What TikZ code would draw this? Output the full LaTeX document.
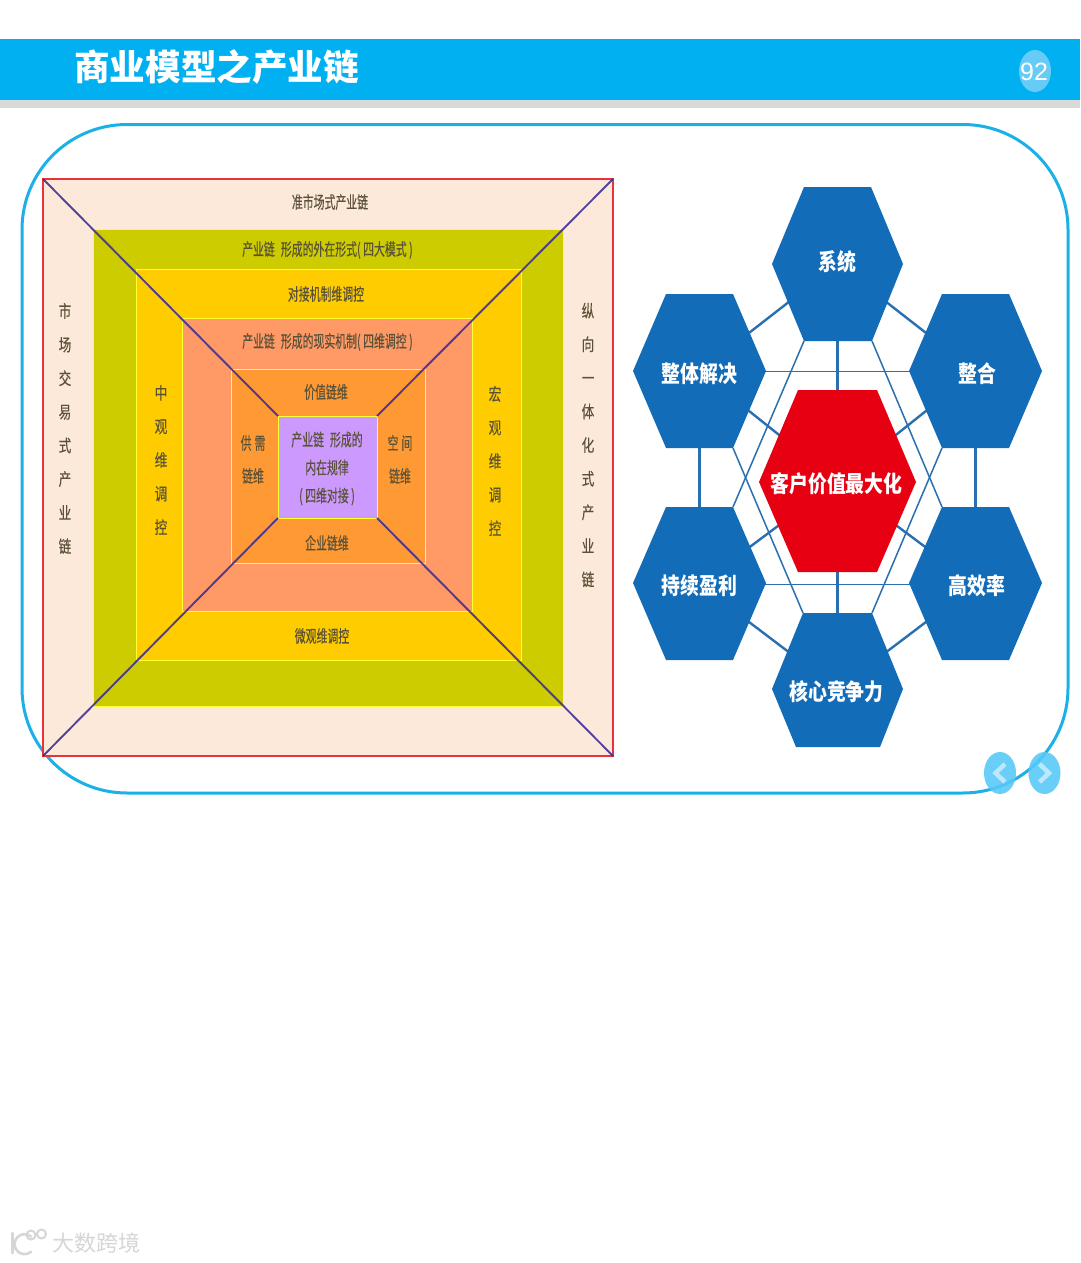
\documentclass[tikz,border=0pt]{standalone}
\usepackage{fontspec}
\setmainfont{Liberation Sans}
\newfontfamily\cnfont{Noto Sans CJK SC}
\newfontfamily\cnthin[FakeStretch=0.64,FakeBold=0.3]{Noto Sans CJK SC}
\newfontfamily\cnvert[FakeStretch=0.74,FakeBold=0.3]{Noto Sans CJK SC}
\newfontfamily\cnhex[FakeStretch=0.82]{Noto Sans CJK SC}
\definecolor{barblue}{HTML}{00B0F0}
\definecolor{bargrey}{HTML}{D9D9D9}
\definecolor{framecyan}{HTML}{1BB1E7}
\definecolor{ovalblue}{HTML}{55C8F8}
\definecolor{ovalpage}{HTML}{66CBF6}
\definecolor{chevron}{HTML}{BDE8FB}
\definecolor{outerfill}{HTML}{FDE9D9}
\definecolor{olivefill}{HTML}{CCCC00}
\definecolor{yellowfill}{HTML}{FFCC00}
\definecolor{salmonfill}{HTML}{FF9966}
\definecolor{orangefill}{HTML}{FF9933}
\definecolor{purplefill}{HTML}{CC99FF}
\definecolor{ruleyellow}{HTML}{FFFF33}
\definecolor{rulered}{HTML}{E8323C}
\definecolor{diag}{HTML}{3A2C96}
\definecolor{labelgrey}{HTML}{5A5238}
\definecolor{hexblue}{HTML}{126CB8}
\definecolor{hexred}{HTML}{E60012}
\definecolor{linkblue}{HTML}{2A6FAF}
\definecolor{wmgrey}{HTML}{D6D6D6}
\tikzset{
  layer/.style={draw=ruleyellow,line width=1pt},
  diagline/.style={draw=diag,line width=1.9pt,draw opacity=.88},
  lbl/.style={inner sep=0pt,text=labelgrey,font=\cnthin\fontsize{17}{28}\selectfont,align=center},
  vlbl/.style={inner sep=0pt,text=labelgrey,font=\cnvert\fontsize{17}{33.6}\selectfont,align=center},
  hexlbl/.style={inner sep=0pt,text=white,font=\cnhex\bfseries\fontsize{23}{26}\selectfont},
  thicklink/.style={draw=linkblue,line width=2.4pt},
  thinlink/.style={draw=linkblue,line width=1.5pt},
  navoval/.style={fill=ovalblue,fill opacity=.88,draw=none},
  navmark/.style={draw=chevron,line width=4.5pt,line join=miter},
}
\begin{document}
\begin{tikzpicture}[x=1pt,y=-1pt]
\useasboundingbox (0,0) rectangle (1080,1263);
\fill[white] (0,0) rectangle (1080,1263);
% header
\fill[barblue] (0,39.5) rectangle (1080,100);
\fill[bargrey] (0,100) rectangle (1080,108);
\node[inner sep=0pt,anchor=west,text=white,font=\cnfont\bfseries\fontsize{35.6}{40}\selectfont] (title) at (74,67) {商业模型之产业链};
\fill[ovalpage] (1035,71) ellipse [x radius=16,y radius=21];
\node[inner sep=0pt,text=white,font=\fontsize{25}{28}\selectfont] (page) at (1034,71.5) {92};
% frame
\draw[framecyan,line width=3pt,rounded corners=105pt] (22,124.5) rectangle (1068,793);
% nested square
\filldraw[fill=outerfill,draw=rulered,line width=1.2pt] (43,179) rectangle (613,756);
\filldraw[layer,fill=olivefill] (93,229) rectangle (563,706);
\filldraw[layer,fill=yellowfill] (136,269) rectangle (521,660);
\filldraw[layer,fill=salmonfill] (182,318) rectangle (472,611);
\filldraw[layer,fill=orangefill] (231,369) rectangle (425,563);
\filldraw[layer,fill=purplefill] (278,416) rectangle (377,518);
\coordinate (o1) at (43,179); \coordinate (o2) at (613,179);
\coordinate (o3) at (613,756); \coordinate (o4) at (43,756);
\coordinate (p1) at (278,416); \coordinate (p2) at (377,416);
\coordinate (p3) at (377,518); \coordinate (p4) at (278,518);
\draw[diagline] (o1) -- (p1);
\draw[diagline] (o2) -- (p2);
\draw[diagline] (o3) -- (p3);
\draw[diagline] (o4) -- (p4);
% square labels
\node[lbl] (t1) at (330,202) {准市场式产业链};
\node[lbl] (t2) at (327.5,250) {产业链\hspace{6pt}形成的外在形式( 四大模式 )};
\node[lbl] (t3) at (326,294) {对接机制维调控};
\node[lbl] (t4) at (327.5,342) {产业链\hspace{6pt}形成的现实机制( 四维调控 )};
\node[lbl] (t5) at (326,392) {价值链维};
\node[lbl] (t6) at (327,543) {企业链维};
\node[lbl] (t7) at (322,636) {微观维调控};
\node[lbl] (t8) at (253,459.5) {供\hspace{3pt}需\\[5pt]链维};
\node[lbl] (t9) at (400,459.5) {空\hspace{3pt}间\\[5pt]链维};
\node[lbl] (t10) at (327,468.5) {产业链\hspace{6pt}形成的\\内在规律\\( 四维对接 )};
\node[vlbl] (v1) at (65,428.5) {市\\场\\交\\易\\式\\产\\业\\链};
\node[vlbl] (v2) at (588,445) {纵\\向\\一\\体\\化\\式\\产\\业\\链};
\node[vlbl] (v3) at (161,460) {中\\观\\维\\调\\控};
\node[vlbl] (v4) at (495,461) {宏\\观\\维\\调\\控};
% hexagon diagram: centres
\coordinate (csys) at (837.5,264);
\coordinate (cint) at (699.5,371.5);
\coordinate (chg) at (975.5,371.5);
\coordinate (csus) at (699.5,584.5);
\coordinate (ceff) at (975.5,584.5);
\coordinate (ccore) at (837.5,689);
\coordinate (cred) at (837.5,481.5);
% connectors between centres
\draw[thicklink] (csys) -- (cint);
\draw[thicklink] (csys) -- (chg);
\draw[thicklink] (csys) -- (cred);
\draw[thicklink] (cint) -- (cred);
\draw[thicklink] (chg) -- (cred);
\draw[thicklink] (csus) -- (cred);
\draw[thicklink] (ceff) -- (cred);
\draw[thicklink] (ccore) -- (cred);
\draw[thicklink] (csus) -- (ccore);
\draw[thicklink] (ceff) -- (ccore);
\draw[thicklink] (cint) -- (csus);
\draw[thicklink] (chg) -- (ceff);
\draw[thinlink] (cint) -- (chg);
\draw[thinlink] (csus) -- (ceff);
\coordinate (sysbl) at (804,341); \coordinate (sysbr) at (872,341);
\coordinate (intbr) at (733,448); \coordinate (hgbl) at (942,448);
\coordinate (sustr) at (733,507); \coordinate (efftl) at (942,507);
\coordinate (coretl) at (803,613); \coordinate (coretr) at (872,613);
\draw[thinlink] (sysbl) -- (sustr);
\draw[thinlink] (sysbr) -- (efftl);
\draw[thinlink] (intbr) -- (coretl);
\draw[thinlink] (hgbl) -- (coretr);
% hexagons
\fill[hexblue] (772,264) -- (804,187) -- (871,187) -- (903,264) -- (872,341) -- (804,341) -- cycle;
\fill[hexblue] (633,371) -- (666,294) -- (733,294) -- (766,371) -- (733,448) -- (666,448) -- cycle;
\fill[hexblue] (909,371) -- (942,294) -- (1009,294) -- (1042,371) -- (1009,448) -- (942,448) -- cycle;
\fill[hexblue] (633,583) -- (666,507) -- (733,507) -- (766,583) -- (733,660) -- (666,660) -- cycle;
\fill[hexblue] (909,583) -- (942,507) -- (1009,507) -- (1042,583) -- (1009,660) -- (942,660) -- cycle;
\fill[hexblue] (772,689) -- (803,613) -- (872,613) -- (903,689) -- (880,747) -- (796,747) -- cycle;
\fill[hexred] (759,482) -- (798,390) -- (877,390) -- (916,482) -- (877,572) -- (798,572) -- cycle;
\node[hexlbl] (sys) at (837,262) {系统};
\node[hexlbl] (int) at (699.5,374) {整体解决};
\node[hexlbl] (chgt) at (977,374) {整合};
\node[hexlbl] (sus) at (699.5,586) {持续盈利};
\node[hexlbl] (eff) at (977,586) {高效率};
\node[hexlbl] (core) at (836.5,692) {核心竞争力};
\node[hexlbl] (red) at (836.5,484) {客户价值最大化};
% nav buttons
\fill[navoval] (1000,773) ellipse [x radius=16,y radius=21];
\fill[navoval] (1044.5,773) ellipse [x radius=16,y radius=21];
\draw[navmark] (1005,764) -- (995.5,773) -- (1005,782);
\draw[navmark] (1039.5,764) -- (1049,773) -- (1039.5,782);
% watermark
\draw[wmgrey,line width=2.6pt,line cap=round] (12.5,1233) -- (12.5,1253);
\draw[wmgrey,line width=2.6pt,line cap=round] (31,1236.5) arc[start angle=-50,end angle=-310,radius=10];
\draw[wmgrey,line width=2pt] (31,1235) circle [radius=4.5];
\draw[wmgrey,line width=2pt] (41.5,1234) circle [radius=4.5];
\node[inner sep=0pt,anchor=west,text=wmgrey,font=\cnfont\fontsize{22}{24}\selectfont] (wm) at (52,1243.5) {大数跨境};
\end{tikzpicture}
\end{document}
